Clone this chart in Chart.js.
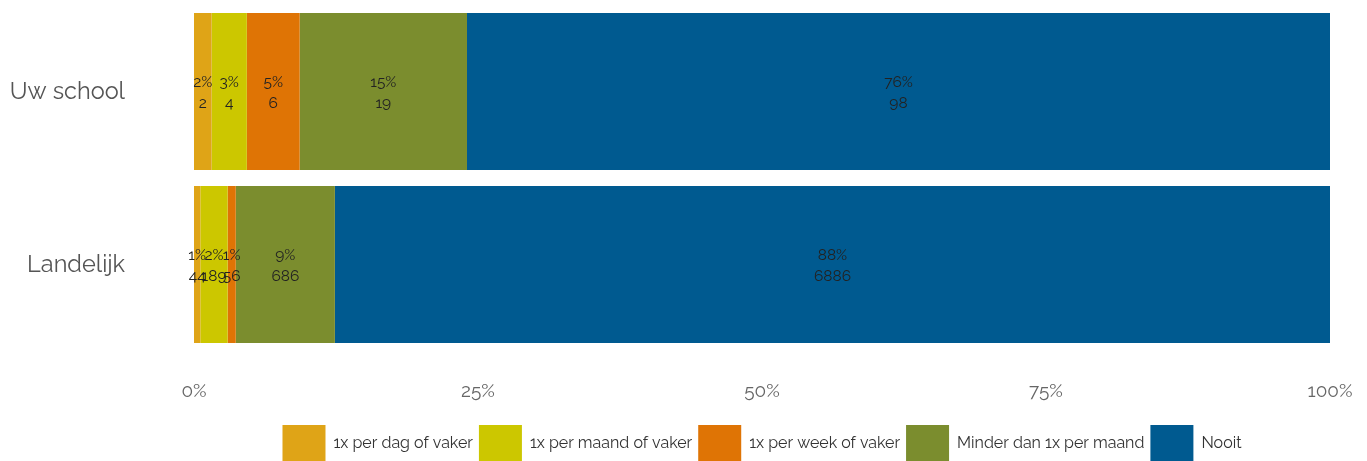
<!DOCTYPE html>
<html>
<head>
<meta charset="utf-8">
<script src="https://cdn.jsdelivr.net/npm/chart.js@4"></script>
<style>
  body { margin: 0; background: #ffffff; }
  #wrap { width: 1367px; height: 461px; }
</style>
</head>
<body>
<div id="wrap"><canvas id="frequencyChart"></canvas></div>
<script>
const groups = ['Uw school', 'Landelijk'];
const seriesNames = ['1x per dag of vaker', '1x per maand of vaker', '1x per week of vaker', 'Minder dan 1x per maand', 'Nooit'];
const seriesColors = ['#DFA417', '#CCC700', '#DF7405', '#7B8D2E', '#005A90'];

// answer counts per group, same order as seriesNames
const dagCounts = [2, 44];
const maandCounts = [4, 189];
const weekCounts = [6, 56];
const minderCounts = [19, 686];
const nooitCounts = [98, 6886];

const allCounts = [dagCounts, maandCounts, weekCounts, minderCounts, nooitCounts];
const totals = groups.map((g, i) => allCounts.reduce((s, arr) => s + arr[i], 0));

const fontFamily = 'Raleway, Lato, sans-serif';

// percentage + count written in the middle of every segment
const segmentLabels = {
    id: 'segmentLabels',
    afterDatasetsDraw(chart) {
        const ctx = chart.ctx;
        ctx.save();
        ctx.font = '15.5px ' + fontFamily;
        ctx.fillStyle = '#222222';
        ctx.textAlign = 'center';
        ctx.textBaseline = 'middle';
        chart.data.datasets.forEach((ds, di) => {
            const meta = chart.getDatasetMeta(di);
            meta.data.forEach((bar, i) => {
                const cx = (bar.x + bar.base) / 2;
                const count = allCounts[di][i];
                ctx.fillText(Math.round(ds.data[i]) + '%', cx, bar.y - 9.5);
                ctx.fillText(count, cx, bar.y + 11.5);
            });
        });
        ctx.restore();
    }
};

const datasets = seriesNames.map((name, di) => ({
    label: name,
    data: allCounts[di].map((c, i) => c / totals[i] * 100),
    backgroundColor: seriesColors[di],
    borderWidth: 0,
    categoryPercentage: 1,
    barPercentage: 0.9075
}));

const chart = new Chart(document.getElementById('frequencyChart'), {
    type: 'bar',
    data: {
        labels: groups,
        datasets: datasets
    },
    options: {
        indexAxis: 'y',
        responsive: true,
        maintainAspectRatio: false,
        animation: false,
        layout: {
            padding: { top: 5, right: 37, left: 0, bottom: -10 }
        },
        plugins: {
            legend: {
                position: 'bottom',
                align: 'center',
                fullSize: false,
                labels: {
                    boxWidth: 43,
                    boxHeight: 36,
                    padding: 6,
                    color: '#333333',
                    font: { family: fontFamily, size: 16 }
                }
            },
            tooltip: { enabled: false }
        },
        scales: {
            x: {
                stacked: true,
                min: 0,
                max: 100,
                grid: { display: false, drawTicks: false },
                border: { display: false },
                afterFit: scale => {
                    scale.height = 68;
                    scale.paddingLeft = 0;
                    scale.paddingRight = 0;
                },
                ticks: {
                    stepSize: 25,
                    padding: 29,
                    color: '#666666',
                    font: { family: fontFamily, size: 19 },
                    callback: v => v + '%'
                }
            },
            y: {
                stacked: true,
                grid: { display: false, drawTicks: false },
                border: { display: false },
                afterFit: scale => {
                    scale.width = 194;
                    scale.paddingTop = 0;
                    scale.paddingBottom = 0;
                },
                ticks: {
                    padding: 69,
                    color: '#555555',
                    font: { family: fontFamily, size: 23.5 }
                }
            }
        }
    },
    plugins: [segmentLabels]
});
</script>
</body>
</html>
